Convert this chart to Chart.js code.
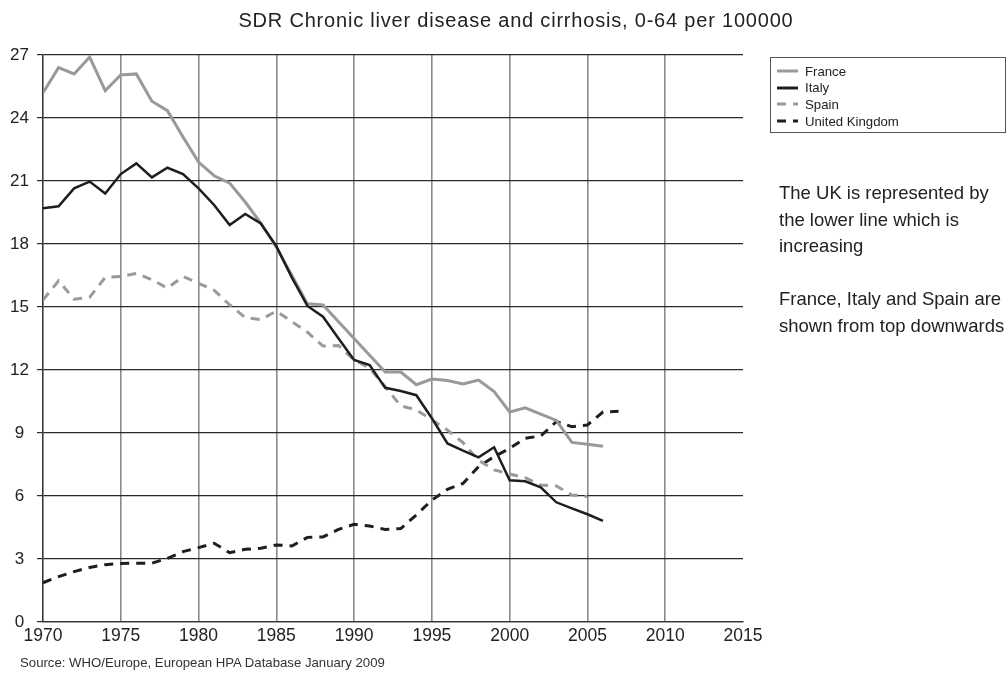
<!DOCTYPE html>
<html>
<head>
<meta charset="utf-8">
<script src="https://cdn.jsdelivr.net/npm/chart.js@4"></script>
<style>
  body { margin: 0; background: #fff; font-family: "Liberation Sans", Arial, sans-serif; color: #222; }
  #wrap { position: relative; width: 1008px; height: 676px; }
  #title { position: absolute; left: 0; width: 1032px; top: 8px; text-align: center; font-size: 20px; letter-spacing: 0.8px; line-height: 24px; }
  #legend { position: absolute; left: 770px; top: 57px; width: 236px; height: 76px; border: 1px solid #555; box-sizing: border-box; font-size: 13.2px; padding-top: 5px; }
  #legend .item { display: flex; align-items: center; height: 16.6px; padding-left: 6px; }
  #legend svg { margin-right: 7px; }
  #note { position: absolute; left: 779px; top: 180px; font-size: 18.5px; line-height: 26.5px; }
  #source { position: absolute; left: 20px; top: 655px; font-size: 13.2px; color: #333; }
</style>
</head>
<body>
<div id="wrap">
  <canvas id="chart"></canvas>
  <div id="title">SDR Chronic liver disease and cirrhosis, 0-64 per 100000</div>
  <div id="legend"></div>
  <div id="note">The UK is represented by<br>the lower line which is<br>increasing<br><br>France, Italy and Spain are<br>shown from top downwards</div>
  <div id="source">Source: WHO/Europe, European HPA Database January 2009</div>
</div>
<script>
const years = [1970, 1971, 1972, 1973, 1974, 1975, 1976, 1977, 1978, 1979,
  1980, 1981, 1982, 1983, 1984, 1985, 1986, 1987, 1988, 1989,
  1990, 1991, 1992, 1993, 1994, 1995, 1996, 1997, 1998, 1999,
  2000, 2001, 2002, 2003, 2004, 2005, 2006, 2007];

const france = [25.2, 26.4, 26.1, 26.9, 25.3, 26.05, 26.1, 24.8, 24.35, 23.1,
  21.9, 21.25, 20.9, 20.0, 19.0, 17.85, 16.5, 15.15, 15.1, 14.3,
  13.5, 12.7, 11.9, 11.9, 11.3, 11.57, 11.5, 11.33, 11.52, 10.97,
  10.0, 10.2, 9.9, 9.6, 8.55, 8.46, 8.37, null];

const italy = [19.7, 19.8, 20.65, 20.97, 20.4, 21.33, 21.84, 21.17, 21.63, 21.33,
  20.65, 19.86, 18.9, 19.43, 18.98, 17.9, 16.4, 15.05, 14.54, 13.5,
  12.48, 12.24, 11.15, 11.0, 10.8, 9.7, 8.5, 8.16, 7.84, 8.32,
  6.75, 6.7, 6.41, 5.7, 5.41, 5.13, 4.82, null];

const spain = [15.33, 16.25, 15.37, 15.47, 16.41, 16.45, 16.6, 16.3, 15.9, 16.45,
  16.13, 15.8, 15.1, 14.5, 14.4, 14.8, 14.3, 13.8, 13.14, 13.17,
  12.48, 12.08, 11.2, 10.29, 10.1, 9.62, 9.14, 8.54, 7.7, 7.24,
  7.05, 6.87, 6.52, 6.48, 6.05, 5.97, null, null];

const uk = [1.87, 2.16, 2.4, 2.6, 2.73, 2.79, 2.8, 2.8, 3.03, 3.35,
  3.54, 3.75, 3.3, 3.46, 3.51, 3.67, 3.62, 4.03, 4.05, 4.41,
  4.65, 4.57, 4.41, 4.45, 5.1, 5.8, 6.32, 6.6, 7.4, 7.87,
  8.27, 8.75, 8.86, 9.54, 9.3, 9.38, 10.0, 10.03];

const seriesNames = ['France', 'Italy', 'Spain', 'United Kingdom'];
const seriesColors = ['#999999', '#1e1e1e', '#9a9a9a', '#1e1e1e'];
const seriesDash = [[], [], [9, 7], [9, 7]];
const seriesValues = [france, italy, spain, uk];

const toPoints = (vals) => years.map((y, i) => ({ x: y, y: vals[i] }));

const datasets = seriesNames.map((name, i) => ({
  label: name,
  data: toPoints(seriesValues[i]),
  borderColor: seriesColors[i],
  borderWidth: i === 1 ? 2.5 : 3,
  borderDash: seriesDash[i],
  pointRadius: 0,
  fill: false,
  tension: 0,
  spanGaps: false,
}));

// draw order: UK and Spain under France/Italy
datasets[0].order = 1;
datasets[1].order = 0;
datasets[2].order = 2;
datasets[3].order = 3;

const FONT = '"Liberation Sans", Arial, sans-serif';

new Chart(document.getElementById('chart').getContext('2d'), {
  type: 'line',
  data: { datasets },
  options: {
    responsive: true,
    maintainAspectRatio: false,
    animation: false,
    layout: { padding: { left: 0, top: 55, right: 265, bottom: 24 } },
    plugins: { legend: { display: false }, title: { display: false }, tooltip: { enabled: false } },
    scales: {
      x: {
        type: 'linear',
        min: 1970,
        max: 2015,
        ticks: { stepSize: 5, color: '#222', font: { family: FONT, size: 17.5 }, padding: 4, callback: (v) => String(v) },
        grid: {
          color: (c) => (c.tick && c.tick.value === 2015 ? 'rgba(0,0,0,0)' : '#8a8a8a'),
          lineWidth: 1.6,
          drawTicks: false,
        },
        border: { color: '#333', width: 1.3 },
        afterFit: (s) => { s.height = 30; },
      },
      y: {
        min: 0,
        max: 27,
        ticks: { stepSize: 3, color: '#222', font: { family: FONT, size: 17 }, crossAlign: 'center', padding: 8 },
        grid: { color: '#2a2a2a', lineWidth: 1.2, tickLength: 6, tickColor: '#2a2a2a' },
        border: { color: '#333', width: 1.3 },
        afterFit: (s) => { s.width = 43; },
      },
    },
  },
});

// legend in a box on the right
const legend = document.getElementById('legend');
seriesNames.forEach((name, i) => {
  const item = document.createElement('div');
  item.className = 'item';
  const dash = seriesDash[i].length ? `stroke-dasharray="${seriesDash[i].join(',')}"` : '';
  item.innerHTML = `<svg width="21" height="6"><line x1="0" y1="3" x2="21" y2="3" stroke="${seriesColors[i]}" stroke-width="3" ${dash}/></svg><span>${name}</span>`;
  legend.appendChild(item);
});
</script>
</body>
</html>
